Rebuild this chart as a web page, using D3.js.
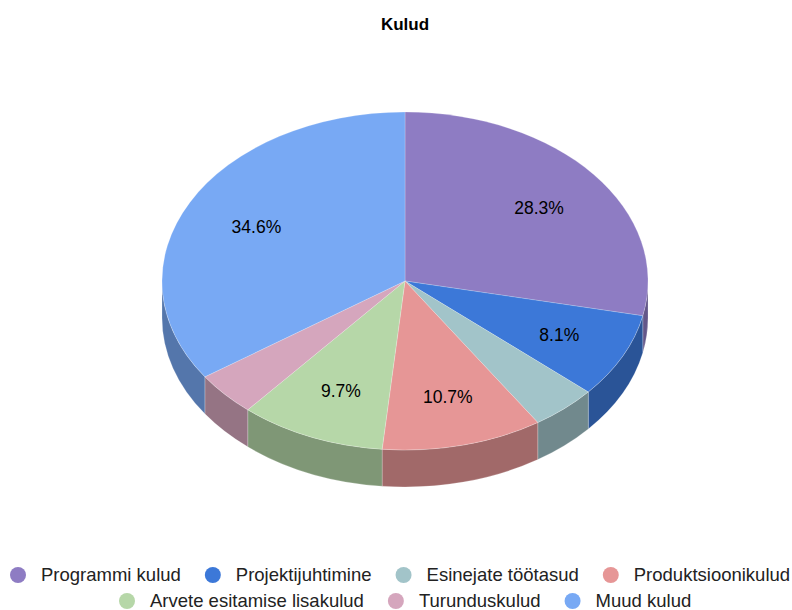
<!DOCTYPE html>
<html>
<head>
<meta charset="utf-8">
<script src="https://cdn.jsdelivr.net/npm/d3@7"></script>
<style>
  body { margin: 0; background: #fff; }
  svg { display: block; font-family: "Liberation Sans", Arial, sans-serif; }
</style>
</head>
<body>
<svg id="chart" width="792" height="610"></svg>
<script>
// chart data
var categories = ["Programmi kulud", "Projektijuhtimine", "Esinejate töötasud", "Produktsioonikulud",
                  "Arvete esitamise lisakulud", "Turunduskulud", "Muud kulud"];
var values = [28.3, 8.1, 4.4, 10.7, 9.7, 4.2, 34.6];
var colors = ["#8e7cc3", "#3c78d8", "#a2c4c9", "#e69696", "#b6d7a8", "#d5a6bd", "#78a9f4"];
var legendRows = [4, 3];

var svg = d3.select("#chart");
var W = 792;

var cx = 405, cy = 281, rx = 243, ry = 169, depth = 37;

var color = d3.scaleOrdinal().domain(categories).range(colors);

var data = categories.map(function(c, i) { return {name: c, value: values[i]}; });
var total = d3.sum(values);
var arcs = d3.pie().sort(null).value(function(d) { return d.value; })(data);

function pt(a, dy) {
  return [cx + rx * Math.sin(a), cy - ry * Math.cos(a) + (dy || 0)];
}

// title
svg.append("text")
  .attr("x", W / 2 + 9).attr("y", 30)
  .attr("text-anchor", "middle")
  .style("font-size", "17px").style("font-weight", "bold")
  .text("Kulud");

// side walls, only the front half (angles between 90 and 270 deg)
var walls = svg.append("g");
arcs.forEach(function(d) {
  var a0 = Math.max(d.startAngle, Math.PI / 2), a1 = Math.min(d.endAngle, Math.PI * 1.5);
  if (a1 <= a0) return;
  var p0 = pt(a0), p1 = pt(a1), q1 = pt(a1, depth), q0 = pt(a0, depth);
  var path = "M" + p0 + " A" + rx + " " + ry + " 0 0 1 " + p1 +
             " L" + q1 + " A" + rx + " " + ry + " 0 0 0 " + q0 + " Z";
  walls.append("path")
    .attr("d", path)
    .attr("fill", d3.color(color(d.data.name)).darker(1))
    .attr("stroke", "#fff").attr("stroke-opacity", 0.35).attr("stroke-width", 0.6);
});

// top faces
var tops = svg.append("g");
arcs.forEach(function(d) {
  var p0 = pt(d.startAngle), p1 = pt(d.endAngle);
  var large = (d.endAngle - d.startAngle) > Math.PI ? 1 : 0;
  tops.append("path")
    .attr("d", "M" + cx + "," + cy + " L" + p0 + " A" + rx + " " + ry + " 0 " + large + " 1 " + p1 + " Z")
    .attr("fill", color(d.data.name))
    .attr("stroke", "#fff").attr("stroke-opacity", 0.35).attr("stroke-width", 0.6);
});

// percent labels
arcs.forEach(function(d) {
  var pct = d.data.value / total * 100;
  if (pct < 5) return;
  var m = (d.startAngle + d.endAngle) / 2;
  var x = cx + 0.7 * rx * Math.sin(m) + 2, y = cy - 0.7 * ry * Math.cos(m) + 1;
  svg.append("text")
    .attr("x", x).attr("y", y).attr("dy", "0.35em")
    .attr("text-anchor", "middle")
    .style("font-size", "17.5px").attr("fill", "#000")
    .text(pct.toFixed(1) + "%");
});

// legend
var legend = svg.append("g");
var idx = 0;
legendRows.forEach(function(n, r) {
  var row = legend.append("g");
  var x = 0;
  for (var k = 0; k < n; k++, idx++) {
    var name = categories[idx];
    var item = row.append("g").attr("transform", "translate(" + x + ",0)");
    item.append("circle").attr("cx", 8).attr("cy", 0).attr("r", 8).attr("fill", color(name));
    var t = item.append("text").attr("x", 31).attr("dy", "0.35em")
      .style("font-size", "18.5px").attr("fill", "#222").text(name);
    x += 31 + t.node().getComputedTextLength() + 24;
  }
  var w = x - 24;
  var left = w > W - 20 ? 10 : Math.round(cx - w / 2);
  row.attr("transform", "translate(" + left + "," + (575 + r * 26) + ")");
});
</script>
</body>
</html>
